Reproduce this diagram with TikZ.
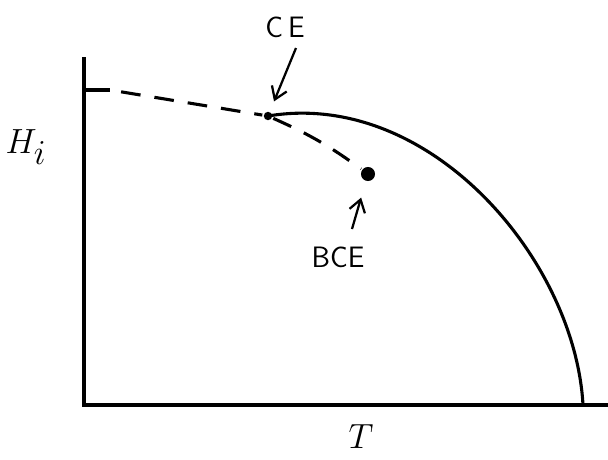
\documentclass[tikz,border=0pt]{standalone}
\usetikzlibrary{arrows.meta}
\tikzset{
  dot/.style={circle, fill, inner sep=0pt, minimum size=#1},
  dot/.default=6pt,
  ptr/.style={-{Straight Barb[length=3mm,width=4mm]}, line width=1.6pt},
  lbl/.style={font=\fontsize{21}{24}\selectfont\sffamily}
}
\begin{document}
\begin{tikzpicture}[line width=2.2pt]
        \useasboundingbox (0,0) rectangle (15.2,11.475);

        % axes
        \coordinate (o) at (2.1,1.35);
        \coordinate (ytop) at (2.1,10.05);
        \coordinate (xend) at (15.2,1.35);
        \draw (ytop) -- (o) -- (xend);
        \coordinate (tick) at (2.75,9.225);
        \draw (2.1,9.225) -- (tick);

        \node[dot] (ce) at (6.7,8.575) {};
        \node[dot=10pt] (bce) at (9.2,7.125) {};
        \coordinate (tc) at (14.575,1.35);

        \draw[dash pattern=on 14pt off 10pt, dash phase=-8pt] (tick) -- (ce);
        \draw[dash pattern=on 14pt off 10pt] (ce) to[bend left=6] (bce);
        \draw (ce.center) .. controls (10.75,9.25) and (14.375,4.975) .. (tc);

        \node[lbl] (celabel) at (7.125,10.8) {C\,E};
        \node[lbl] (bcelabel) at (8.45,5.05) {BCE};
        \coordinate (cetail) at (7.4,10.275);
        \coordinate (bcetail) at (8.8,5.75);
        \draw[ptr, shorten >=0.25cm] (cetail) -- (ce);
        \draw[ptr, shorten >=0.4cm] (bcetail) -- (bce);

        \node at (0.65,7.8) {\fontsize{34}{40}\selectfont$H_i$};
        \node at (9.025,0.55) {\fontsize{34}{40}\selectfont$T$};
\end{tikzpicture}
\end{document}
